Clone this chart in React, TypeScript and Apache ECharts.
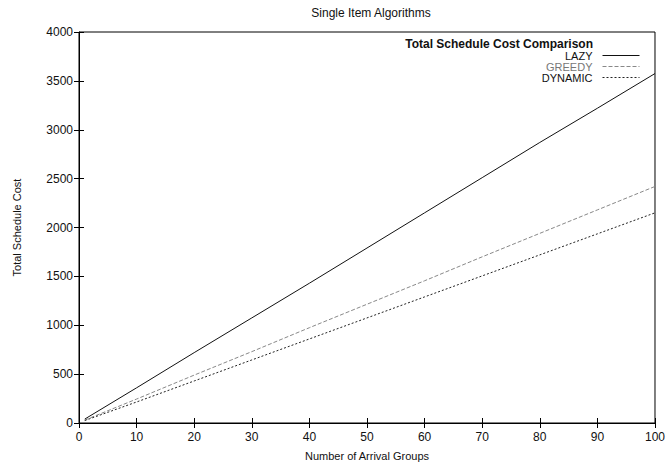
import React, { useEffect, useRef } from "react";
import * as echarts from "echarts";

const groups = [1, 10, 20, 30, 40, 50, 60, 70, 80, 90, 100];
const lazy = [40, 360, 720, 1075, 1430, 1790, 2150, 2510, 2870, 3220, 3575];
const greedy = [30, 245, 490, 730, 975, 1215, 1455, 1700, 1940, 2180, 2420];
const dynamic = [25, 215, 430, 645, 860, 1075, 1290, 1505, 1720, 1935, 2150];
const xTicks = [0, 10, 20, 30, 40, 50, 60, 70, 80, 90, 100];
const yTicks = [0, 500, 1000, 1500, 2000, 2500, 3000, 3500, 4000];

const FONT = "Liberation Sans, Arial, sans-serif";

export default function App() {
  const ref = useRef<HTMLDivElement>(null);
  useEffect(() => {
    if (!ref.current) return;
    const chart = echarts.init(ref.current, undefined, { renderer: "svg" });
    const pair = (v: number[]) => groups.map((g, i) => [g, v[i]]);
    const tickStyle = { show: true, inside: true, length: 5, lineStyle: { color: "#000" } };
    chart.setOption({
      animation: false,
      backgroundColor: "#fff",
      textStyle: { fontFamily: FONT, color: "#000" },
      title: {
        text: "Single Item Algorithms",
        left: 366,
        textAlign: "center",
        top: 2,
        textStyle: { fontFamily: FONT, fontSize: 12, fontWeight: "normal", color: "#111" },
      },
      grid: {
        left: 79,
        right: 12,
        top: 32,
        bottom: 43,
        show: true,
        borderColor: "#000",
        borderWidth: 1,
      },
      legend: {
        orient: "vertical",
        right: 28,
        top: 50,
        padding: 0,
        align: "right",
        itemWidth: 37,
        itemHeight: 8,
        itemGap: 0,
        itemStyle: { opacity: 0 },
        lineStyle: { width: 1 },
        textStyle: {
          fontFamily: FONT,
          fontSize: 11,
          lineHeight: 10,
          height: 10,
          color: "#111",
          padding: [0, 5, 0, 0],
        },
        data: [
          { name: "LAZY" },
          { name: "GREEDY", textStyle: { color: "#777" } },
          { name: "DYNAMIC" },
        ],
      },
      graphic: [
        {
          type: "text",
          right: 75,
          top: 38,
          style: {
            text: "Total Schedule Cost Comparison",
            font: "bold 12px " + FONT,
            fill: "#111",
          },
        },
      ],
      xAxis: [
        {
          type: "value",
          min: 0,
          max: 100,
          interval: 10,
          name: "Number of Arrival Groups",
          nameLocation: "middle",
          nameGap: 27,
          nameTextStyle: { fontFamily: FONT, fontSize: 11, color: "#111" },
          axisLine: { show: true, lineStyle: { color: "#000" } },
          axisTick: tickStyle,
          splitLine: { show: false },
          axisLabel: {
            fontFamily: FONT,
            fontSize: 12,
            color: "#111",
            margin: 8,
            customValues: xTicks,
            formatter: (v: number) => String(v),
          },
        },
        {
          type: "value",
          position: "top",
          min: 0,
          max: 100,
          interval: 10,
          axisLine: { show: false },
          axisTick: tickStyle,
          axisLabel: { show: false },
          splitLine: { show: false },
        },
      ],
      yAxis: [
        {
          type: "value",
          min: 0,
          max: 4000,
          interval: 500,
          name: "Total Schedule Cost",
          nameLocation: "middle",
          nameGap: 57,
          nameTextStyle: { fontFamily: FONT, fontSize: 11, color: "#111" },
          axisLine: { show: true, lineStyle: { color: "#000" } },
          axisTick: tickStyle,
          splitLine: { show: false },
          axisLabel: {
            fontFamily: FONT,
            fontSize: 12,
            color: "#111",
            margin: 6,
            customValues: yTicks,
            formatter: (v: number) => String(v),
          },
        },
        {
          type: "value",
          position: "right",
          min: 0,
          max: 4000,
          interval: 500,
          axisLine: { show: false },
          axisTick: tickStyle,
          axisLabel: { show: false },
          splitLine: { show: false },
        },
      ],
      series: [
        {
          name: "LAZY",
          type: "line",
          data: pair(lazy),
          showSymbol: false,
          symbol: "none",
          lineStyle: { color: "#111", width: 1, type: "solid" },
          itemStyle: { color: "#111" },
        },
        {
          name: "GREEDY",
          type: "line",
          data: pair(greedy),
          showSymbol: false,
          symbol: "none",
          lineStyle: { color: "#888", width: 1, type: [4, 2] },
          itemStyle: { color: "#888" },
        },
        {
          name: "DYNAMIC",
          type: "line",
          data: pair(dynamic),
          showSymbol: false,
          symbol: "none",
          lineStyle: { color: "#222", width: 1, type: [2, 2] },
          itemStyle: { color: "#222" },
        },
      ],
    });
    return () => chart.dispose();
  }, []);
  return (
    <div
      ref={ref}
      style={{ position: "absolute", left: 0, top: 0, width: 668, height: 466 }}
    />
  );
}
